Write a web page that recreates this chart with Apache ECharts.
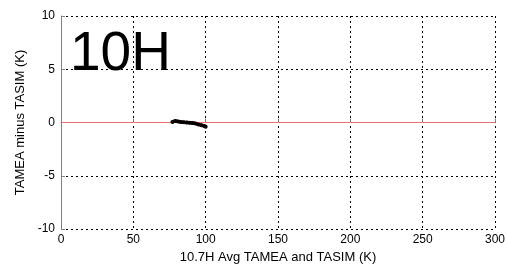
<!DOCTYPE html>
<html>
<head>
    <meta charset="UTF-8">
    <title>10H</title>
    <script src="https://cdn.jsdelivr.net/npm/echarts@6/dist/echarts.min.js"></script>
</head>
<body style="margin:0">
    <div id="main" style="width:508px;height:269px;"></div>
    <script>
        // avg TB (K) and difference (K)
        var xAvg = [77, 79, 81, 83, 85, 87, 89, 91, 93, 95, 97, 99, 100];
        var yDiff = [0.05, 0.15, 0.1, 0.05, 0.02, 0.0, -0.02, -0.05, -0.1, -0.18, -0.25, -0.32, -0.4];
        var zeroLineX = [0, 300];
        var zeroLineY = [0, 0];

        var pts = [];
        for (var i = 0; i < xAvg.length; i++) {
            pts.push([xAvg[i], yDiff[i]]);
        }
        var zero = [];
        for (var j = 0; j < zeroLineX.length; j++) {
            zero.push([zeroLineX[j], zeroLineY[j]]);
        }

        var chart = echarts.init(document.getElementById('main'));
        var tickFont = { color: '#000', fontSize: 12, fontFamily: 'Liberation Sans, Arial' };
        chart.setOption({
            animation: false,
            title: {
                text: '10H',
                left: 65,
                top: 22,
                textStyle: { fontSize: 55, fontWeight: 'normal', color: '#000', fontFamily: 'Liberation Sans, Arial' }
            },
            grid: { left: 61, right: 10, top: 16, bottom: 37 },
            xAxis: {
                type: 'value', min: 0, max: 300, interval: 50,
                name: '10.7H Avg TAMEA and TASIM (K)',
                nameLocation: 'middle', nameGap: 22,
                nameTextStyle: { color: '#000', fontSize: 13, fontFamily: 'Liberation Sans, Arial' },
                axisLine: { lineStyle: { color: '#808080', width: 1 } },
                axisTick: { inside: true, length: 4, lineStyle: { color: '#808080' } },
                axisLabel: Object.assign({ margin: 5 }, tickFont),
                splitLine: { lineStyle: { color: '#000', type: [2, 3], width: 1 } }
            },
            yAxis: {
                type: 'value', min: -10, max: 10, interval: 5,
                name: 'TAMEA minus TASIM (K)',
                nameLocation: 'middle', nameGap: 32,
                nameTextStyle: { color: '#000', fontSize: 13, fontFamily: 'Liberation Sans, Arial' },
                axisLine: { lineStyle: { color: '#808080', width: 1 } },
                axisTick: { inside: true, length: 4, lineStyle: { color: '#808080' } },
                axisLabel: Object.assign({ margin: 6 }, tickFont),
                splitLine: { lineStyle: { color: '#000', type: [2, 3], width: 1 } }
            },
            series: [
                {
                    type: 'line',
                    data: zero,
                    symbol: 'none',
                    lineStyle: { color: '#f07070', width: 1 }
                },
                {
                    type: 'line',
                    data: pts,
                    symbol: 'circle',
                    symbolSize: 4,
                    itemStyle: { color: '#000' },
                    lineStyle: { color: '#500000', width: 3.5 }
                }
            ]
        });
    </script>
</body>
</html>
